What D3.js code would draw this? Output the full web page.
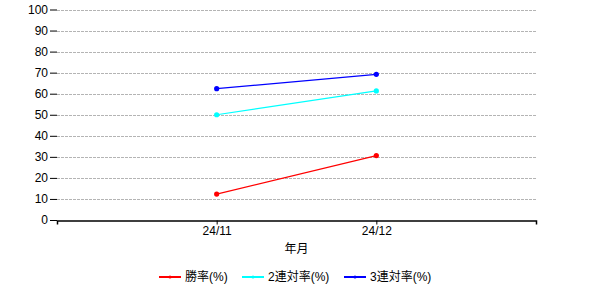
<!DOCTYPE html>
<html>
<head>
<meta charset="utf-8">
<script src="https://cdn.jsdelivr.net/npm/d3@7"></script>
<style>
  body { margin: 0; background: #fff; }
  svg text { font-family: Arial, "Liberation Sans", "Noto Sans CJK JP", sans-serif; font-size: 12px; fill: #000; }
</style>
</head>
<body>
<div id="chart"></div>
<script>
// data
var months = ["24/11", "24/12"];
var winRate = [12.3, 30.6];
var top2Rate = [50.0, 61.3];
var top3Rate = [62.4, 69.2];
var yTicks = [0, 10, 20, 30, 40, 50, 60, 70, 80, 90, 100];

var series = [
    { name: "勝率(%)", values: winRate, color: "#ff0000" },
    { name: "2連対率(%)", values: top2Rate, color: "#00ffff" },
    { name: "3連対率(%)", values: top3Rate, color: "#0000ff" }
];

var width = 600, height = 300;
var margin = { top: 9.5, right: 64, bottom: 80, left: 57 };

var svg = d3.select("#chart")
    .append("svg")
    .attr("width", width)
    .attr("height", height);

// x: months sit at 1..n, blank slots at both ends
var x = d3.scaleLinear()
    .domain([0, months.length + 1])
    .range([margin.left, width - margin.right]);

var y = d3.scaleLinear()
    .domain([0, 100])
    .range([height - margin.bottom, margin.top]);

// grid lines
svg.append("g")
    .selectAll("line")
    .data(yTicks.filter(d => d > 0))
    .enter()
    .append("line")
    .attr("x1", x.range()[0])
    .attr("x2", x.range()[1])
    .attr("y1", d => Math.round(y(d)) + 0.5)
    .attr("y2", d => Math.round(y(d)) + 0.5)
    .attr("stroke", "#b4b4b4")
    .attr("stroke-dasharray", "3,1");

// y axis (ticks only, no domain line)
var yAxis = svg.append("g")
    .attr("transform", "translate(" + margin.left + ",0)")
    .call(d3.axisLeft(y).tickValues(yTicks).tickSize(7).tickPadding(2));
yAxis.select(".domain").remove();
yAxis.selectAll(".tick line").attr("stroke", "#000");

// x axis
var xAxis = svg.append("g")
    .attr("transform", "translate(0," + (Math.round(y(0)) + 0.5) + ")")
    .call(d3.axisBottom(x)
        .tickValues(months.map((m, i) => i + 1))
        .tickFormat((d) => months[d - 1])
        .tickSize(4)
        .tickSizeOuter(4)
        .tickPadding(2));
xAxis.select(".domain").attr("stroke", "#000").attr("stroke-width", 1.5);
xAxis.selectAll(".tick line").attr("stroke", "#000");
xAxis.selectAll("text").style("font-size", "12px");

svg.append("text")
    .attr("x", (x.range()[0] + x.range()[1]) / 2)
    .attr("y", 253)
    .attr("text-anchor", "middle")
    .text("年月");

// lines and markers
var line = d3.line()
    .x((d, i) => x(i + 1))
    .y(d => y(d));

series.forEach(s => {
    svg.append("path")
        .datum(s.values)
        .attr("d", line)
        .attr("fill", "none")
        .attr("stroke", s.color)
        .attr("stroke-width", 1.2);
    svg.selectAll(null)
        .data(s.values)
        .enter()
        .append("circle")
        .attr("cx", (d, i) => x(i + 1))
        .attr("cy", d => y(d))
        .attr("r", 2.6)
        .attr("fill", s.color);
});

// legend
var legendX = [159, 242, 344];
var legend = svg.append("g").attr("transform", "translate(0,277)");
series.forEach((s, i) => {
    var g = legend.append("g").attr("transform", "translate(" + legendX[i] + ",0)");
    g.append("line")
        .attr("x1", 0).attr("x2", 22)
        .attr("stroke", s.color)
        .attr("stroke-width", 2);
    g.append("circle").attr("cx", 11).attr("r", 1.5).attr("fill", s.color);
    g.append("text")
        .attr("x", 26)
        .attr("dy", "0.35em")
        .text(s.name);
});
</script>
</body>
</html>
